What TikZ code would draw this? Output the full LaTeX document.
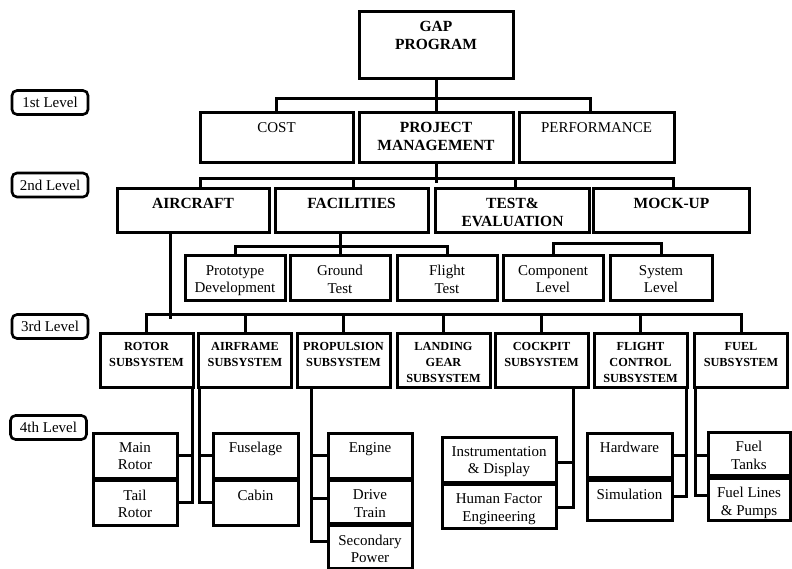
\documentclass[tikz,border=0pt]{standalone}
\usepackage{fontspec}
\setmainfont{Liberation Serif}
\newcommand{\headfont}{\fontsize{15.5}{18}\selectfont\bfseries}
\newcommand{\plainfont}{\fontsize{15}{17.5}\selectfont}
\newcommand{\subfont}{\fontsize{12.3}{16}\selectfont\bfseries}
\newcommand{\boxskip}{9.5pt}
% text sits at the top of each box
\newcommand{\boxtxt}[3]{\parbox[c][#2][t]{#1}{\centering\vspace*{\boxskip}#3\par}}
\tikzset{
  box/.style={draw, line width=3pt, inner sep=0pt},
  lvl/.style={draw, line width=2.6pt, rounded corners=5pt, minimum width=76pt,
    minimum height=24pt, inner sep=0pt, font=\plainfont},
  link/.style={line width=3pt, line cap=rect}
}
\begin{document}
\begin{tikzpicture}[x=1pt,y=-1pt,line join=miter]
  \useasboundingbox (0,0) rectangle (792,569);
  % level tags
  \node[lvl] (l1) at (50,102.5) {1st Level};
  \node[lvl] (l2) at (50,185) {2nd Level};
  \node[lvl] (l3) at (50,326.5) {3rd Level};
  \node[lvl] (l4) at (48.5,427.5) {4th Level};
  % top and 1st level
  \node[box,font=\headfont] (gap) at (436,45.5) {\boxtxt{154pt}{67pt}{GAP\\PROGRAM}};
  \node[box,font=\plainfont] (cost) at (276.5,138) {\boxtxt{153pt}{50pt}{COST}};
  \node[box,font=\headfont] (pm) at (436,138) {\boxtxt{154pt}{50pt}{PROJECT\\MANAGEMENT}};
  \node[box,font=\plainfont] (perf) at (596.5,138) {\boxtxt{155pt}{50pt}{PERFORMANCE}};
  % 2nd level
  \node[box,font=\headfont] (aircraft) at (193,211) {\boxtxt{152pt}{44pt}{AIRCRAFT}};
  \node[box,font=\headfont] (facilities) at (351.5,211) {\boxtxt{153pt}{44pt}{FACILITIES}};
  \node[box,font=\headfont] (te) at (512.5,211) {\boxtxt{154pt}{44pt}{TEST\&\\EVALUATION}};
  \node[box,font=\headfont] (mockup) at (671.5,211) {\boxtxt{156pt}{44pt}{MOCK-UP}};
  % under facilities and mock-up
  \node[box,font=\plainfont] (proto) at (235,278) {\boxtxt{100pt}{44pt}{Prototype\\Development}};
  \node[box,font=\plainfont] (ground) at (340,278) {\boxtxt{100pt}{44pt}{Ground\\Test}};
  \node[box,font=\plainfont] (flight) at (447,278) {\boxtxt{100pt}{44pt}{Flight\\Test}};
  \node[box,font=\plainfont] (comp) at (553,278) {\boxtxt{100pt}{44pt}{Component\\Level}};
  \node[box,font=\plainfont] (sys) at (661,278) {\boxtxt{102pt}{44pt}{System\\Level}};
  % 3rd level
  \node[box,font=\subfont] (rotor) at (146.5,360) {\boxtxt{93pt}{54pt}{ROTOR\\SUBSYSTEM}};
  \node[box,font=\subfont] (airframe) at (245,360) {\boxtxt{93pt}{54pt}{AIRFRAME\\SUBSYSTEM}};
  \node[box,font=\subfont] (propulsion) at (343.5,360) {\boxtxt{93pt}{54pt}{PROPULSION\\SUBSYSTEM}};
  \node[box,font=\subfont] (landing) at (443.5,360) {\boxtxt{93pt}{54pt}{LANDING\\GEAR\\SUBSYSTEM}};
  \node[box,font=\subfont] (cockpit) at (541.5,360) {\boxtxt{93pt}{54pt}{COCKPIT\\SUBSYSTEM}};
  \node[box,font=\subfont] (flightctl) at (640.5,360) {\boxtxt{93pt}{54pt}{FLIGHT\\CONTROL\\SUBSYSTEM}};
  \node[box,font=\subfont] (fuel) at (741,360) {\boxtxt{93pt}{54pt}{FUEL\\SUBSYSTEM}};
  % 4th level
  \node[box,font=\plainfont] (mainrotor) at (135,455.5) {\boxtxt{84pt}{45pt}{Main\\Rotor}};
  \node[box,font=\plainfont] (tailrotor) at (135,502.75) {\boxtxt{84pt}{44.5pt}{Tail\\Rotor}};
  \node[box,font=\plainfont] (fuselage) at (255.5,455.5) {\boxtxt{85pt}{45pt}{Fuselage}};
  \node[box,font=\plainfont] (cabin) at (255.5,502.75) {\boxtxt{85pt}{44.5pt}{Cabin}};
  \node[box,font=\plainfont] (engine) at (370,455.5) {\boxtxt{84pt}{45pt}{Engine}};
  \node[box,font=\plainfont] (drivetrain) at (370,501.75) {\boxtxt{84pt}{42.5pt}{Drive\\Train}};
  \node[box,font=\plainfont] (secpower) at (370,546.75) {\boxtxt{84pt}{42.5pt}{Secondary\\Power}};
  \node[box,font=\plainfont] (instr) at (499,459.5) {\boxtxt{114pt}{45pt}{Instrumentation\\\& Display}};
  \node[box,font=\plainfont] (human) at (499,506.25) {\boxtxt{114pt}{43.5pt}{Human Factor\\Engineering}};
  \node[box,font=\plainfont] (hardware) at (629.5,455.25) {\boxtxt{85pt}{44.5pt}{Hardware}};
  \node[box,font=\plainfont] (simulation) at (629.5,500) {\boxtxt{85pt}{40pt}{Simulation}};
  \node[box,font=\plainfont] (tanks) at (749,453.75) {\boxtxt{82pt}{43.5pt}{Fuel\\Tanks}};
  \node[box,font=\plainfont] (lines) at (749,499) {\boxtxt{82pt}{42pt}{Fuel Lines\\\& Pumps}};
  % connectors, top part
  \draw[link] (gap.south) -- (pm.north);
  \draw[link] (cost.north) -- ++(0,-13) -| ([xshift=-6.5pt]perf.north);
  \draw[link] (pm.south) -- ++(0,17);
  \draw[link] ([xshift=7pt]aircraft.north) -- ++(0,-9) -| ([xshift=1.5pt]mockup.north);
  \draw[link] ([xshift=1.5pt]facilities.north) -- ++(0,-9);
  \draw[link] ([xshift=2.5pt]te.north) -- ++(0,-9);
  \draw[link] (ground.north) -- (ground.north |- facilities.south);
  \draw[link] (proto.north) -- ++(0,-8) -| (flight.north);
  \draw[link] (comp.north) -- ++(0,-11) -| (sys.north);
  % aircraft to subsystems
  \coordinate (ac) at ([xshift=-23pt]aircraft.south);
  \draw[link] (ac) -- ++(0,83);
  \draw[link] (rotor.north) -- ++(0,-17) -| (fuel.north);
  \foreach \n in {airframe,propulsion,landing,cockpit,flightctl}
    \draw[link] (\n.north) -- ++(0,-17);
  % subsystems to 4th level
  \coordinate (rs) at ([xshift=-2pt]rotor.south east);
  \draw[link] (rs) |- (tailrotor.east);
  \draw[link] (mainrotor.east) -- (mainrotor.east -| rs);
  \coordinate (as) at ([xshift=2pt]airframe.south west);
  \draw[link] (as) |- (cabin.west);
  \draw[link] (fuselage.west) -- (fuselage.west -| as);
  \coordinate (ps) at ([xshift=16pt]propulsion.south west);
  \draw[link] (ps) |- ([yshift=5pt]secpower.west);
  \draw[link] (engine.west) -- (engine.west -| ps);
  \draw[link] ([yshift=3pt]drivetrain.west) -- ([yshift=3pt]drivetrain.west -| ps);
  \coordinate (cs) at ([xshift=-16pt]cockpit.south east);
  \draw[link] (cs) |- ([yshift=-1pt]human.east);
  \draw[link] ([yshift=-3pt]instr.east) -- ([yshift=-3pt]instr.east -| cs);
  \coordinate (fs) at ([xshift=-2pt]flightctl.south east);
  \draw[link] (fs) |- ([yshift=4pt]simulation.east);
  \draw[link] (hardware.east) -- (hardware.east -| fs);
  \coordinate (us) at ([xshift=2pt]fuel.south west);
  \draw[link] (us) |- ([yshift=4pt]lines.west);
  \draw[link] ([yshift=-2pt]tanks.west) -- ([yshift=-2pt]tanks.west -| us);
\end{tikzpicture}
\end{document}
